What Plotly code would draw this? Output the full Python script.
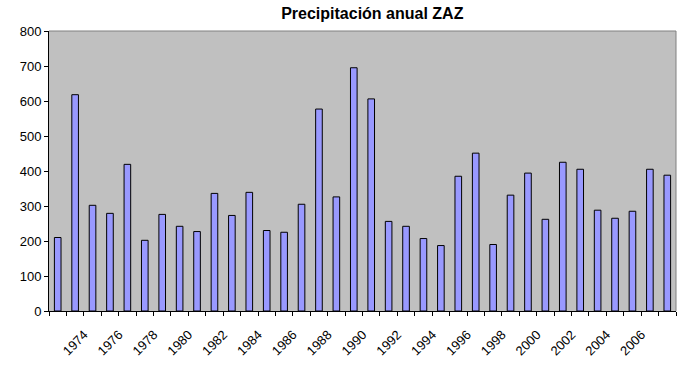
import plotly.graph_objects as go

years = list(range(1973, 2009))
precip = [210, 618, 302, 279, 419, 202, 276, 242, 227, 336, 273, 339,
          230, 225, 305, 577, 326, 695, 606, 256, 242, 207, 187, 385,
          451, 190, 331, 394, 262, 425, 405, 288, 265, 285, 405, 388]
label_years = list(range(1974, 2007, 2))
y_ticks = list(range(0, 801, 100))

fig = go.Figure()
fig.add_trace(go.Bar(
    x=years, y=precip,
    marker=dict(color="#9999FF", line=dict(color="black", width=1)),
    width=0.38,
))

fig.update_layout(
    width=692, height=371,
    margin=dict(l=49, r=16, t=31, b=60, autoexpand=False),
    paper_bgcolor="white",
    plot_bgcolor="#C0C0C0",
    showlegend=False,
    font=dict(family="Arial, Liberation Sans, sans-serif", size=13, color="black"),
    title=dict(text="<b>Precipitación anual ZAZ</b>", x=0.538, xanchor="center",
               y=0.965, yanchor="middle",
               font=dict(size=16, color="black")),
)
fig.update_xaxes(
    range=[1972.5, 2008.5],
    tickmode="array", tickvals=label_years, ticktext=[str(y) for y in label_years],
    tickangle=-45, ticks="", ticklabelshift=9, ticklabelstandoff=10,
    showgrid=False, zeroline=False,
    showline=True, linecolor="black", linewidth=1,
    minor=dict(tickmode="linear", tick0=0.5, dtick=1, ticks="outside",
               ticklen=4, tickcolor="black", showgrid=False),
    tickfont=dict(size=13),
    automargin=False,
)
fig.update_yaxes(
    range=[0, 800], tickmode="array", tickvals=y_ticks,
    ticks="outside", ticklen=4, tickcolor="black",
    showgrid=False, zeroline=False,
    showline=True, linecolor="black", linewidth=1,
    tickfont=dict(size=13),
    automargin=False,
)
# gray border on top and right of plot area
fig.add_shape(type="line", xref="paper", yref="paper", x0=0, x1=1, y0=1, y1=1,
              line=dict(color="#808080", width=1))
fig.add_shape(type="line", xref="paper", yref="paper", x0=1, x1=1, y0=0, y1=1,
              line=dict(color="#808080", width=1))

fig.write_html("out.html",
               config={"displayModeBar": False},
               post_script="document.body.style.margin='0';document.body.style.overflow='hidden';")
